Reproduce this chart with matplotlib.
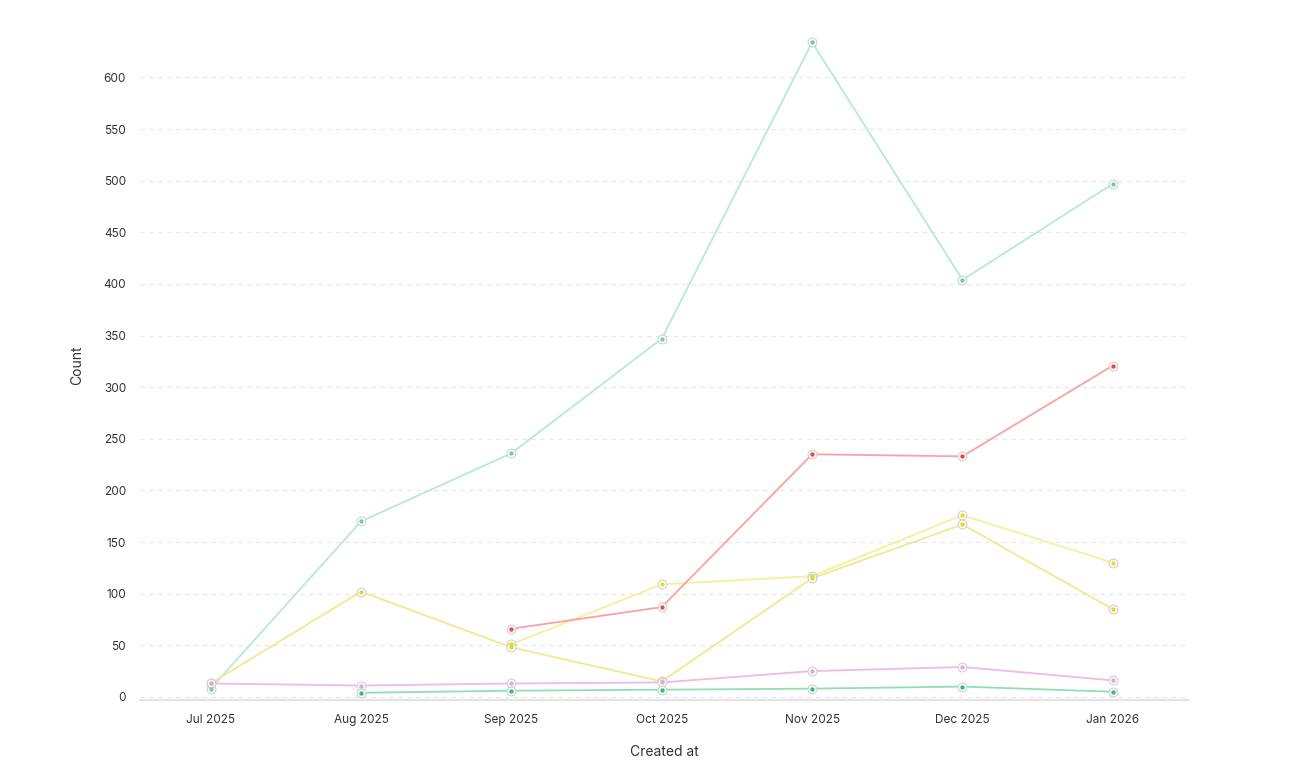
import matplotlib
matplotlib.use("Agg")
import matplotlib.pyplot as plt

plt.rcParams["font.family"] = ["Inter", "DejaVu Sans"]

months = ["Jul 2025", "Aug 2025", "Sep 2025", "Oct 2025", "Nov 2025", "Dec 2025", "Jan 2026"]

mint_vals = [8, 170, 236, 347, 634, 404, 497]
red_vals = [None, None, 66, 87, 235, 233, 321]
yellow_a_vals = [13, 102, 48, 15, 115, 167, 85]
yellow_b_vals = [None, None, 51, 109, 117, 176, 130]
pink_vals = [13, 11, 13, 14, 25, 29, 16]
green_vals = [None, 4, 6, 7, 8, 10, 5]

series = [
    (mint_vals, "#b5ead7", "#6fcfa6"),
    (yellow_b_vals, "#f5ef9e", "#e6dc2a"),
    (yellow_a_vals, "#f6e68c", "#e6d52a"),
    (red_vals, "#f9a3a0", "#f0484a"),
    (pink_vals, "#efb9ea", "#e6a5e0"),
    (green_vals, "#8ee0b4", "#2cc27a"),
]

fig = plt.figure(figsize=(13.04, 7.72), dpi=100)
ax = fig.add_axes([140 / 1304, 1 - 700 / 772, 1048 / 1304, 670 / 772])

for vals, line_c, dot_c in series:
    xs = [i for i, v in enumerate(vals) if v is not None]
    ys = [v for v in vals if v is not None]
    ax.plot(xs, ys, color=line_c, lw=1.3, zorder=2)
    ax.scatter(xs, ys, s=40, color="white", edgecolor="#d0d0d0", lw=0.8, zorder=3)
    ax.scatter(xs, ys, s=10, color=dot_c, lw=0, zorder=4)

ax.set_xlim(-0.47, 6.5)
ax.set_ylim(-3, 646)
ax.set_xticks(range(len(months)))
ax.set_xticklabels(months)
ax.set_yticks(range(0, 601, 50))
ax.grid(axis="y", color="#e6e6e6", ls=(0, (4, 4)), lw=0.8)
for s in ["top", "right", "left"]:
    ax.spines[s].set_visible(False)
ax.spines["bottom"].set_color("#e3e3e3")
ax.spines["bottom"].set_linewidth(1.5)
ax.tick_params(length=0, labelsize=8.5, colors="#333333", pad=10)
ax.set_xlabel("Created at", fontsize=10, color="#333333", labelpad=14)
ax.set_ylabel("Count", fontsize=10, color="#333333", labelpad=14)

fig.savefig("out.png", dpi=100)
